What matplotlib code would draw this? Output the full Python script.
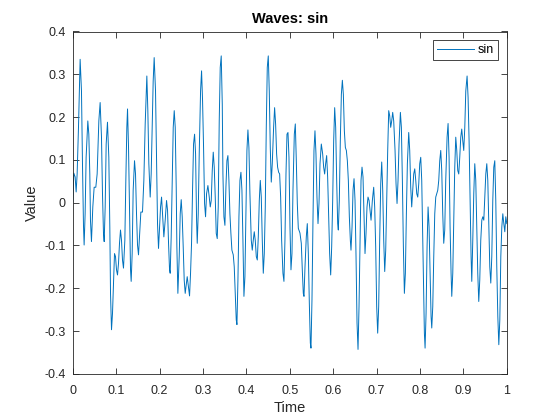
import matplotlib
matplotlib.use("Agg")
import matplotlib.pyplot as plt

time = [
    0.0000, 0.0023, 0.0054, 0.0077, 0.0100, 0.0131, 0.0169, 0.0200, 0.0223, 0.0246,
    0.0261, 0.0284, 0.0307, 0.0346, 0.0369, 0.0392, 0.0407, 0.0430, 0.0461, 0.0492,
    0.0530, 0.0561, 0.0600, 0.0630, 0.0661, 0.0684, 0.0707, 0.0723, 0.0746, 0.0769,
    0.0799, 0.0830, 0.0853, 0.0869, 0.0892, 0.0915, 0.0938, 0.0961, 0.0984, 0.1007,
    0.1030, 0.1053, 0.1076, 0.1099, 0.1122, 0.1145, 0.1168, 0.1199, 0.1222, 0.1245,
    0.1261, 0.1284, 0.1307, 0.1330, 0.1345, 0.1368, 0.1391, 0.1422, 0.1445, 0.1468,
    0.1491, 0.1514, 0.1537, 0.1568, 0.1606, 0.1637, 0.1668, 0.1706,
    0.1729, 0.1752, 0.1783, 0.1806, 0.1829, 0.1852, 0.1875, 0.1906, 0.1929, 0.1952,
    0.1975, 0.1998, 0.2022, 0.2045, 0.2075, 0.2098, 0.2129, 0.2160, 0.2183, 0.2206,
    0.2229, 0.2244, 0.2267, 0.2291, 0.2314, 0.2337, 0.2360, 0.2383, 0.2398, 0.2421,
    0.2452, 0.2475, 0.2498, 0.2521, 0.2544, 0.2567, 0.2590, 0.2613, 0.2636, 0.2659,
    0.2690, 0.2713, 0.2736, 0.2759, 0.2782, 0.2806, 0.2829, 0.2852, 0.2867, 0.2890,
    0.2913, 0.2944, 0.2967, 0.2990, 0.3013, 0.3036, 0.3059, 0.3082, 0.3113, 0.3144,
    0.3167, 0.3190, 0.3213, 0.3236, 0.3259, 0.3282, 0.3305, 0.3328, 0.3351, 0.3374,
    0.3397, 0.3420,
    0.3444, 0.3459, 0.3482, 0.3505, 0.3528, 0.3551, 0.3574, 0.3597, 0.3620, 0.3643,
    0.3666, 0.3697, 0.3720, 0.3743, 0.3766, 0.3782, 0.3805, 0.3828, 0.3851, 0.3874,
    0.3897, 0.3920, 0.3943, 0.3966, 0.3989, 0.4012, 0.4035, 0.4058, 0.4081, 0.4112,
    0.4135, 0.4158, 0.4181, 0.4204, 0.4228, 0.4251, 0.4274, 0.4297, 0.4320, 0.4343,
    0.4366, 0.4389, 0.4412, 0.4435, 0.4458, 0.4481, 0.4504, 0.4527, 0.4550, 0.4573,
    0.4596, 0.4627, 0.4650, 0.4673, 0.4696, 0.4719, 0.4743, 0.4766, 0.4789, 0.4812,
    0.4842, 0.4865, 0.4888, 0.4912, 0.4935, 0.4958, 0.4981, 0.5004, 0.5027, 0.5050,
    0.5073, 0.5104, 0.5127,
    0.5150, 0.5173, 0.5196, 0.5234, 0.5265, 0.5288, 0.5311, 0.5327, 0.5350, 0.5380,
    0.5403, 0.5427, 0.5450, 0.5473, 0.5488, 0.5511, 0.5534, 0.5557, 0.5580, 0.5603,
    0.5626, 0.5650, 0.5673, 0.5696, 0.5726, 0.5757, 0.5780, 0.5803, 0.5826, 0.5849,
    0.5872, 0.5895, 0.5918, 0.5942, 0.5965, 0.5988, 0.6011, 0.6034, 0.6057, 0.6080,
    0.6103, 0.6118, 0.6141, 0.6164, 0.6188, 0.6211, 0.6234, 0.6257, 0.6280, 0.6303,
    0.6326, 0.6349, 0.6372, 0.6395, 0.6410, 0.6434, 0.6457, 0.6480, 0.6503, 0.6526,
    0.6549, 0.6572, 0.6595, 0.6618, 0.6641, 0.6664, 0.6687, 0.6710, 0.6733, 0.6756,
    0.6779, 0.6802, 0.6826, 0.6849, 0.6872,
    0.6902, 0.6933, 0.6956, 0.6979, 0.7002, 0.7025, 0.7048, 0.7071, 0.7095, 0.7118,
    0.7141, 0.7164, 0.7187, 0.7210, 0.7233, 0.7256, 0.7279, 0.7302, 0.7325, 0.7348,
    0.7371, 0.7394, 0.7425, 0.7448, 0.7471, 0.7494, 0.7517, 0.7548, 0.7571, 0.7594,
    0.7617, 0.7640, 0.7663, 0.7686, 0.7709, 0.7740, 0.7763, 0.7786, 0.7809, 0.7832,
    0.7855, 0.7879, 0.7902, 0.7925, 0.7948, 0.7971, 0.7994, 0.8017, 0.8040, 0.8063,
    0.8086, 0.8101, 0.8117, 0.8140, 0.8163, 0.8186, 0.8209, 0.8232, 0.8255, 0.8271,
    0.8294, 0.8317, 0.8340, 0.8363, 0.8386, 0.8409, 0.8432, 0.8455, 0.8478, 0.8501,
    0.8524, 0.8547, 0.8570, 0.8593, 0.8624, 0.8647,
    0.8670, 0.8693, 0.8716, 0.8732, 0.8755, 0.8778, 0.8801, 0.8824, 0.8847, 0.8870,
    0.8893, 0.8916, 0.8939, 0.8962, 0.8985, 0.9008, 0.9032, 0.9055, 0.9085, 0.9108,
    0.9131, 0.9154, 0.9177, 0.9193, 0.9216, 0.9239, 0.9262, 0.9285, 0.9308, 0.9331,
    0.9354, 0.9377, 0.9400, 0.9424, 0.9447, 0.9470, 0.9493, 0.9516, 0.9539, 0.9562,
    0.9585, 0.9608, 0.9631, 0.9654, 0.9677, 0.9700, 0.9723, 0.9746, 0.9769, 0.9793,
    0.9816, 0.9839, 0.9862, 0.9885, 0.9908, 0.9931, 0.9954, 0.9977, 1.0000,
]

valor_sin = [
    0.002, 0.069, 0.060, 0.025, 0.067, 0.176, 0.335, 0.261, 0.091, -0.053,
    -0.099, -0.026, 0.106, 0.191, 0.160, 0.067, -0.041, -0.091, -0.010, 0.036,
    0.036, 0.067, 0.191, 0.234, 0.153, 0.021, -0.072, -0.091, -0.010, 0.137,
    0.188, 0.106, -0.057, -0.212, -0.297, -0.258, -0.188, -0.119, -0.126, -0.157,
    -0.169, -0.142, -0.095, -0.064, -0.088, -0.134, -0.153, -0.088, 0.052, 0.176,
    0.219, 0.129, -0.018, -0.157, -0.184, -0.119, 0.029, 0.098, 0.067, -0.026,
    -0.099, -0.122, -0.080, -0.022, -0.022, 0.052, 0.184, 0.296,
    0.215, 0.091, 0.013, 0.067, 0.176, 0.284, 0.339, 0.261, 0.106, -0.049,
    -0.107, -0.057, -0.010, 0.013, -0.041, -0.080, -0.041, 0.005, -0.018, -0.095,
    -0.157, -0.165, -0.080, 0.052, 0.176, 0.215, 0.176, 0.036, -0.103, -0.212,
    -0.126, -0.026, 0.007, -0.033, -0.103, -0.181, -0.212, -0.192, -0.173, -0.192,
    -0.218, -0.165, -0.095, 0.029, 0.137, 0.160, 0.114, -0.041, -0.095, -0.026,
    0.114, 0.261, 0.308, 0.238, 0.129, -0.002, -0.033, 0.021, 0.040, 0.013,
    -0.010, 0.005, 0.075, 0.118, 0.083, 0.013, -0.072, -0.084, -0.010, 0.191,
    0.316, 0.343,
    0.230, 0.067, -0.033, -0.053, 0.036, 0.098, 0.110, 0.052, -0.026, -0.072,
    -0.111, -0.122, -0.150, -0.212, -0.274, -0.285, -0.181, -0.033, 0.052, 0.071,
    0.029, -0.088, -0.219, -0.173, -0.026, 0.122, 0.170, 0.129, 0.021, -0.088,
    -0.111, -0.088, -0.068, -0.088, -0.126, -0.134, -0.080, 0.005, 0.052, 0.013,
    -0.088, -0.165, -0.119, -0.010, 0.176, 0.316, 0.343, 0.261, 0.129, 0.048,
    0.091, 0.176, 0.222, 0.184, 0.114, 0.083, 0.071, 0.067, 0.013, -0.088,
    -0.165, -0.184, -0.088, 0.067, 0.160, 0.164, 0.106, -0.057, -0.157, -0.119,
    0.029, 0.160, 0.184,
    0.098, -0.002, -0.060, -0.071, -0.095, -0.157, -0.212, -0.219, -0.150, -0.080,
    -0.049, -0.119, -0.235, -0.328, -0.340, -0.227, -0.041, 0.122, 0.168, 0.114,
    0.013, -0.049, -0.002, 0.091, 0.137, 0.114, 0.083, 0.067, 0.091, 0.110,
    0.060, -0.026, -0.119, -0.169, -0.103, 0.005, 0.145, 0.222, 0.176, 0.052,
    -0.049, -0.064, 0.005, 0.145, 0.253, 0.286, 0.253, 0.168, 0.129, 0.122,
    0.098, 0.052, -0.033, -0.088, -0.111, -0.057, 0.029, 0.056, 0.005, -0.126,
    -0.281, -0.343, -0.243, -0.088, 0.052, 0.083, 0.060, -0.026, -0.119, -0.072,
    -0.010, 0.013, 0.005, -0.018, -0.041,
    0.005, 0.036, -0.010, -0.103, -0.243, -0.305, -0.243, -0.088, 0.044, 0.095,
    0.029, -0.088, -0.161, -0.111, 0.005, 0.122, 0.215, 0.203, 0.176, 0.191,
    0.211, 0.191, 0.122, 0.044, -0.002, 0.052, 0.137, 0.211, 0.176, 0.052,
    -0.103, -0.212, -0.165, -0.026, 0.091, 0.164, 0.122, 0.036, -0.010, 0.029,
    0.067, 0.079, 0.052, 0.021, 0.013, 0.044, 0.091, 0.106, 0.052, -0.088,
    -0.243, -0.305, -0.340, -0.258, -0.103, -0.010, -0.057, -0.165, -0.266, -0.293,
    -0.243, -0.126, -0.026, 0.013, 0.021, 0.029, 0.052, 0.098, 0.122, 0.075,
    -0.026, -0.095, -0.064, 0.052, 0.153, 0.185,
    0.106, -0.057, -0.165, -0.219, -0.165, -0.041, 0.083, 0.153, 0.122, 0.075,
    0.067, 0.106, 0.153, 0.172, 0.145, 0.122, 0.176, 0.261, 0.296, 0.246,
    0.145, 0.005, -0.126, -0.184, -0.088, 0.021, 0.091, 0.052, -0.057, -0.165,
    -0.231, -0.181, -0.088, -0.041, -0.033, -0.041, 0.013, 0.067, 0.091, 0.052,
    -0.049, -0.150, -0.188, -0.126, 0.005, 0.083, 0.098, 0.005, -0.150, -0.266,
    -0.332, -0.274, -0.126, -0.057, -0.026, -0.049, -0.068, -0.033, -0.049,
]

x_ticks = [0, 0.1, 0.2, 0.3, 0.4, 0.5, 0.6, 0.7, 0.8, 0.9, 1]
y_ticks = [-0.4, -0.3, -0.2, -0.1, 0, 0.1, 0.2, 0.3, 0.4]

plt.rcParams['font.family'] = ['Liberation Sans', 'DejaVu Sans']
gris = '#262626'

fig = plt.figure(figsize=(5.6, 4.2), dpi=100)
ax = fig.add_axes([0.13, 0.11, 0.775, 0.815])

ax.plot(time, valor_sin, color='#0072BD', linewidth=0.7, label='sin')

ax.set_xlim(0, 1)
ax.set_ylim(-0.4, 0.4)
ax.set_xticks(x_ticks)
ax.set_xticklabels(['0', '0.1', '0.2', '0.3', '0.4', '0.5', '0.6', '0.7', '0.8', '0.9', '1'])
ax.set_yticks(y_ticks)
ax.set_yticklabels(['-0.4', '-0.3', '-0.2', '-0.1', '0', '0.1', '0.2', '0.3', '0.4'])
ax.tick_params(direction='in', length=4, width=0.6, top=True, right=True,
               labelsize=9, colors=gris, pad=5)
ax.tick_params(axis='x', pad=8)
for lado in ax.spines.values():
    lado.set_color(gris)
    lado.set_linewidth(0.6)

ax.set_title('Waves: sin', fontsize=10.5, fontweight='bold', color='black', pad=6)
ax.set_xlabel('Time', fontsize=10.5, color=gris, labelpad=3)
ax.set_ylabel('Value', fontsize=10.5, color=gris)

leyenda = ax.legend(loc='upper right', fontsize=9, fancybox=False, framealpha=1,
                    edgecolor=gris, handlelength=3.0, handletextpad=0.3,
                    borderpad=0.3, borderaxespad=0.7)
leyenda.get_frame().set_linewidth(0.6)

fig.savefig('out.png', dpi=100)
